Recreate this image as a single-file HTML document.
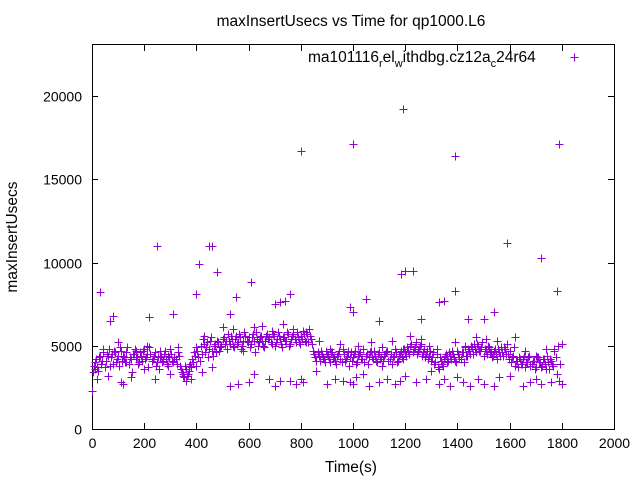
<!DOCTYPE html>
<html><head><meta charset="utf-8"><style>
html,body{margin:0;padding:0;background:#fff;}
svg{display:block;font-family:"Liberation Sans",Arial,sans-serif;}
</style></head><body>
<svg id="chart" width="640" height="480">
<rect x="0" y="0" width="640" height="480" fill="#fff"/>
<text x="351" y="26" font-size="15.5" text-anchor="middle">maxInsertUsecs vs Time for qp1000.L6</text>
<text x="351" y="472" font-size="15.5" text-anchor="middle">Time(s)</text>
<text x="17" y="237" font-size="15.5" text-anchor="middle" transform="rotate(-90 17 237)">maxInsertUsecs</text>
<g id="axes"></g>
<g id="points"></g>
<g>
<text x="308" y="62" font-size="15.5">ma101116<tspan font-size="11" dy="5">r</tspan><tspan dy="-5">el</tspan><tspan font-size="11" dy="5">w</tspan><tspan dy="-5">ithdbg.cz12a</tspan><tspan font-size="11" dy="5">c</tspan><tspan dy="-5">24r64</tspan></text>
<path d="M570.5 57.5h8M574.5 53.5v8" stroke="#9400d3" stroke-width="1"/>
</g>
</svg>
<script>
const xTicks=[0,200,400,600,800,1000,1200,1400,1600,1800,2000];
const yTicks=[0,5000,10000,15000,20000];
const times=[0,8,16,24,32,40,48,56,64,72,80,88,96,104,112,120,128,136,144,152,160,168,176,184,192,200,208,216,224,232,240,248,256,264,272,280,288,296,304,312,320,328,336,344,352,360,368,376,384,392,400,408,416,424,432,440,448,456,464,472,480,488,496,504,512,520,528,536,544,552,560,568,576,584,592,600,608,616,624,632,640,648,656,664,672,680,688,696,704,712,720,728,736,744,752,760,768,776,784,792,800,808,816,824,832,840,848,856,864,872,880,888,896,904,912,920,928,936,944,952,960,968,976,984,992,1000,1008,1016,1024,1032,1040,1048,1056,1064,1072,1080,1088,1096,1104,1112,1120,1128,1136,1144,1152,1160,1168,1176,1184,1192,1200,1208,1216,1224,1232,1240,1248,1256,1264,1272,1280,1288,1296,1304,1312,1320,1328,1336,1344,1352,1360,1368,1376,1384,1392,1400,1408,1416,1424,1432,1440,1448,1456,1464,1472,1480,1488,1496,1504,1512,1520,1528,1536,1544,1552,1560,1568,1576,1584,1592,1600,1608,1616,1624,1632,1640,1648,1656,1664,1672,1680,1688,1696,1704,1712,1720,1728,1736,1744,1752,1760,1768,1776,1784,1792,1800];
const values=[2300,3800,4200,3500,4400,4100,3700,4500,4800,4300,3900,4600,4200,3800,4700,4400,4000,4900,4300,3400,4500,4200,3900,4600,4100,4800,4300,3700,4500,4200,4600,4000,3600,4400,4100,4700,3900,4300,4500,4000,4200,4600,3800,3400,3100,3600,3300,3900,4200,4600,4900,4300,5000,5400,4600,5200,4800,5500,4400,5100,5300,4700,5000,5500,5300,5700,5100,5400,4900,5600,5200,5500,5000,5800,5300,5500,5100,5700,4600,5400,5200,5600,5000,5300,5700,5500,5100,5600,5200,5800,5400,4900,5500,5300,5700,5100,5600,5400,5800,5200,5600,5900,5300,5700,6000,5400,4700,4300,4600,4100,4500,4200,4700,4400,4000,4600,4300,3900,4500,4200,4800,4100,4400,3800,4600,4300,4700,4000,4500,4200,4800,4400,3900,4600,4300,4700,4100,4500,4200,3800,4400,4600,4100,4500,4300,4800,4000,4400,4700,4200,4600,4900,4500,5100,4800,5200,4700,5000,4400,4800,4500,4200,4700,4300,3900,4500,3600,4100,3800,4400,4000,4600,4200,4500,4100,4700,4300,4600,4000,4400,4800,4500,4900,5100,4600,5000,4700,5200,4800,4500,4900,4600,4400,4800,4200,4600,4900,4400,4800,4500,4700,4300,4900,4100,3700,4200,3900,4400,4000,4300,3800,4100,3600,4300,4000,3700,4200,3900,4400,3600,4100,3800,4300,5000,3900,5100];
const times2=[4,12,20,28,36,44,52,60,68,76,84,92,100,108,116,124,132,140,148,156,164,172,180,188,196,204,212,220,228,236,244,252,260,268,276,284,292,300,308,316,324,332,340,348,356,364,372,380,388,396,404,412,420,428,436,444,452,460,468,476,484,492,500,508,516,524,532,540,548,556,564,572,580,588,596,604,612,620,628,636,644,652,660,668,676,684,692,700,708,716,724,732,740,748,756,764,772,780,788,796,804,812,820,828,836,844,852,860,868,876,884,892,900,908,916,924,932,940,948,956,964,972,980,988,996,1004,1012,1020,1028,1036,1044,1052,1060,1068,1076,1084,1092,1100,1108,1116,1124,1132,1140,1148,1156,1164,1172,1180,1188,1196,1204,1212,1220,1228,1236,1244,1252,1260,1268,1276,1284,1292,1300,1308,1316,1324,1332,1340,1348,1356,1364,1372,1380,1388,1396,1404,1412,1420,1428,1436,1444,1452,1460,1468,1476,1484,1492,1500,1508,1516,1524,1532,1540,1548,1556,1564,1572,1580,1588,1596,1604,1612,1620,1628,1636,1644,1652,1660,1668,1676,1684,1692,1700,1708,1716,1724,1732,1740,1748,1756,1764,1772,1780,1788,1796];
const values2=[3400,4000,3700,4300,3900,4600,4100,4400,3800,4500,4700,4000,4400,4900,4100,4300,4600,3900,4200,4500,4800,4300,4000,4400,4700,4200,4500,4900,4100,4400,3800,4300,4700,4000,4500,4200,4400,4800,4100,4300,3900,4400,3600,3300,3800,3200,3500,3700,4000,4400,4700,4100,4500,5100,4900,4300,5300,4700,5000,4600,5200,4900,5400,5100,4800,5300,5600,5000,5400,5100,5700,4800,5300,5600,5200,4900,5500,5300,5800,5000,5500,5300,4900,5600,5400,5200,5700,5000,5400,5600,5100,5500,5300,5800,5000,5400,5700,5200,5500,5100,5400,5700,5800,5200,5600,5100,4500,4100,4400,4700,4300,4000,4500,4200,4600,4300,4100,4400,4700,4000,4500,4200,4600,4300,4100,4500,3900,4400,4600,4200,4000,4500,4300,4700,4200,4400,4000,4600,4300,4100,4500,4700,4200,3900,4400,4600,4100,4500,4300,4800,4400,4700,5000,4600,4900,4500,4800,5100,4600,4300,4700,4400,4100,4600,4000,3700,4300,3900,4200,4500,4100,4400,4700,4300,4000,4500,4200,4600,4900,4400,4700,5000,4500,4800,5100,4700,4900,4400,4700,5000,4600,4300,4700,4500,4800,4400,4600,4900,4500,4200,4000,4400,3800,4100,4300,3900,4200,3700,4000,4400,3900,4100,3700,4300,4000,3800,4200,3600,4000,4200,3900,4800];
const extraTimes=[20,60,110,120,150,200,240,300,350,360,380,420,460,530,560,600,620,680,700,720,760,780,800,810,860,900,930,960,990,1000,1010,1040,1060,1100,1130,1160,1180,1200,1240,1280,1300,1330,1350,1370,1400,1420,1450,1480,1500,1540,1560,1600,1650,1680,1700,1720,1760,1780,1800,1790,10,44,100,130,170,210,260,290,330,370,400,430,470,500,540,580,620,650,690,730,770,820,870,910,950,980,1020,1070,1110,1150,1190,1220,1260,1290,1320,1360,1390,1430,1470,1510,1550,1590,1620,1660,1700,1740,1770];
const extraValues=[3000,3200,2800,2700,3100,3600,3000,3300,3200,2900,3000,3400,3700,2600,2700,2800,3300,3000,2600,2900,2900,2700,3000,2800,3500,2700,3000,2900,2800,2700,3100,3300,2600,2800,3000,2700,2900,3200,2800,3000,3500,2700,3000,2600,3100,2800,2600,3000,2700,2600,3100,3200,2600,2800,3000,2700,2800,3300,2700,2900,3600,4800,5200,4000,4700,5000,4300,3800,4900,3800,3800,5600,5000,6100,6000,4700,6100,6200,5900,6300,6000,5200,5300,4800,5100,4700,5000,5200,4900,5300,4800,5600,5400,5000,4800,4400,5200,5000,5500,5400,5300,5100,5500,4700,4400,4800,4700];
const outlierTimes=[30,70,80,250,400,410,450,460,480,550,610,800,1000,1190,1390,1590,1720,1790,1780,1185,1200,1230,1330,1350,1390,1050,990,1000,740,760,720,700,530,310,220,1500,1540,1440,1260,1100];
const outlierValues=[8200,6500,6800,11000,8100,9900,11000,11000,9400,7900,8800,16700,17100,19200,16400,11200,10300,17100,8300,9300,9500,9500,7600,7700,8300,7800,7300,7000,7700,8100,7600,7500,6900,6900,6700,6600,7000,6600,6600,6500];

const X0=92,X1=614,Y0=429,Y1=96;
const xs=v=>X0+(v-0)/2000*(X1-X0);
const ys=v=>Y0-(v-0)/20000*(Y0-Y1);
const NS="http://www.w3.org/2000/svg";
const axes=document.getElementById('axes');
const frame=document.createElementNS(NS,'rect');
frame.setAttribute('x',X0+0.5);frame.setAttribute('y',44.5);
frame.setAttribute('width',X1-X0);frame.setAttribute('height',Y0-44);
frame.setAttribute('fill','none');frame.setAttribute('stroke','#000');


axes.appendChild(frame);
xTicks.forEach(t=>{
  const x=Math.round(xs(t))+0.5;
  const p=document.createElementNS(NS,'path');
  p.setAttribute('d',`M${x} ${Y0}v-6M${x} 45v6`);
  p.setAttribute('stroke','#000');
  
  
  axes.appendChild(p);
  const l=document.createElementNS(NS,'text');
  l.setAttribute('x',x);l.setAttribute('y',448);
  l.setAttribute('font-size','14');l.setAttribute('text-anchor','middle');
  l.textContent=t;
  
  
  axes.appendChild(l);
});
yTicks.forEach(t=>{
  const y=Math.round(ys(t))+0.5;
  const p=document.createElementNS(NS,'path');
  p.setAttribute('d',`M${X0} ${y}h6M${X1} ${y}h-6`);
  p.setAttribute('stroke','#000');
  
  
  axes.appendChild(p);
  const l=document.createElementNS(NS,'text');
  l.setAttribute('x',82);l.setAttribute('y',y+5);
  l.setAttribute('font-size','14');l.setAttribute('text-anchor','end');
  l.textContent=t;
  
  
  axes.appendChild(l);
});
const pts=document.getElementById('points');
function plot(ts,vs){
  ts.forEach((t,i)=>{
    const x=Math.round(xs(t))+0.5,y=Math.round(ys(vs[i]))+0.5;
    const p=document.createElementNS(NS,'path');
    p.setAttribute('d',`M${x-4} ${y}h8M${x} ${y-4}v8`);
    p.setAttribute('stroke','#9400d3');
    
    
    pts.appendChild(p);
  });
}
plot(times,values);
plot(times2,values2);
plot(extraTimes,extraValues);
plot(outlierTimes,outlierValues);
</script>
</body></html>
